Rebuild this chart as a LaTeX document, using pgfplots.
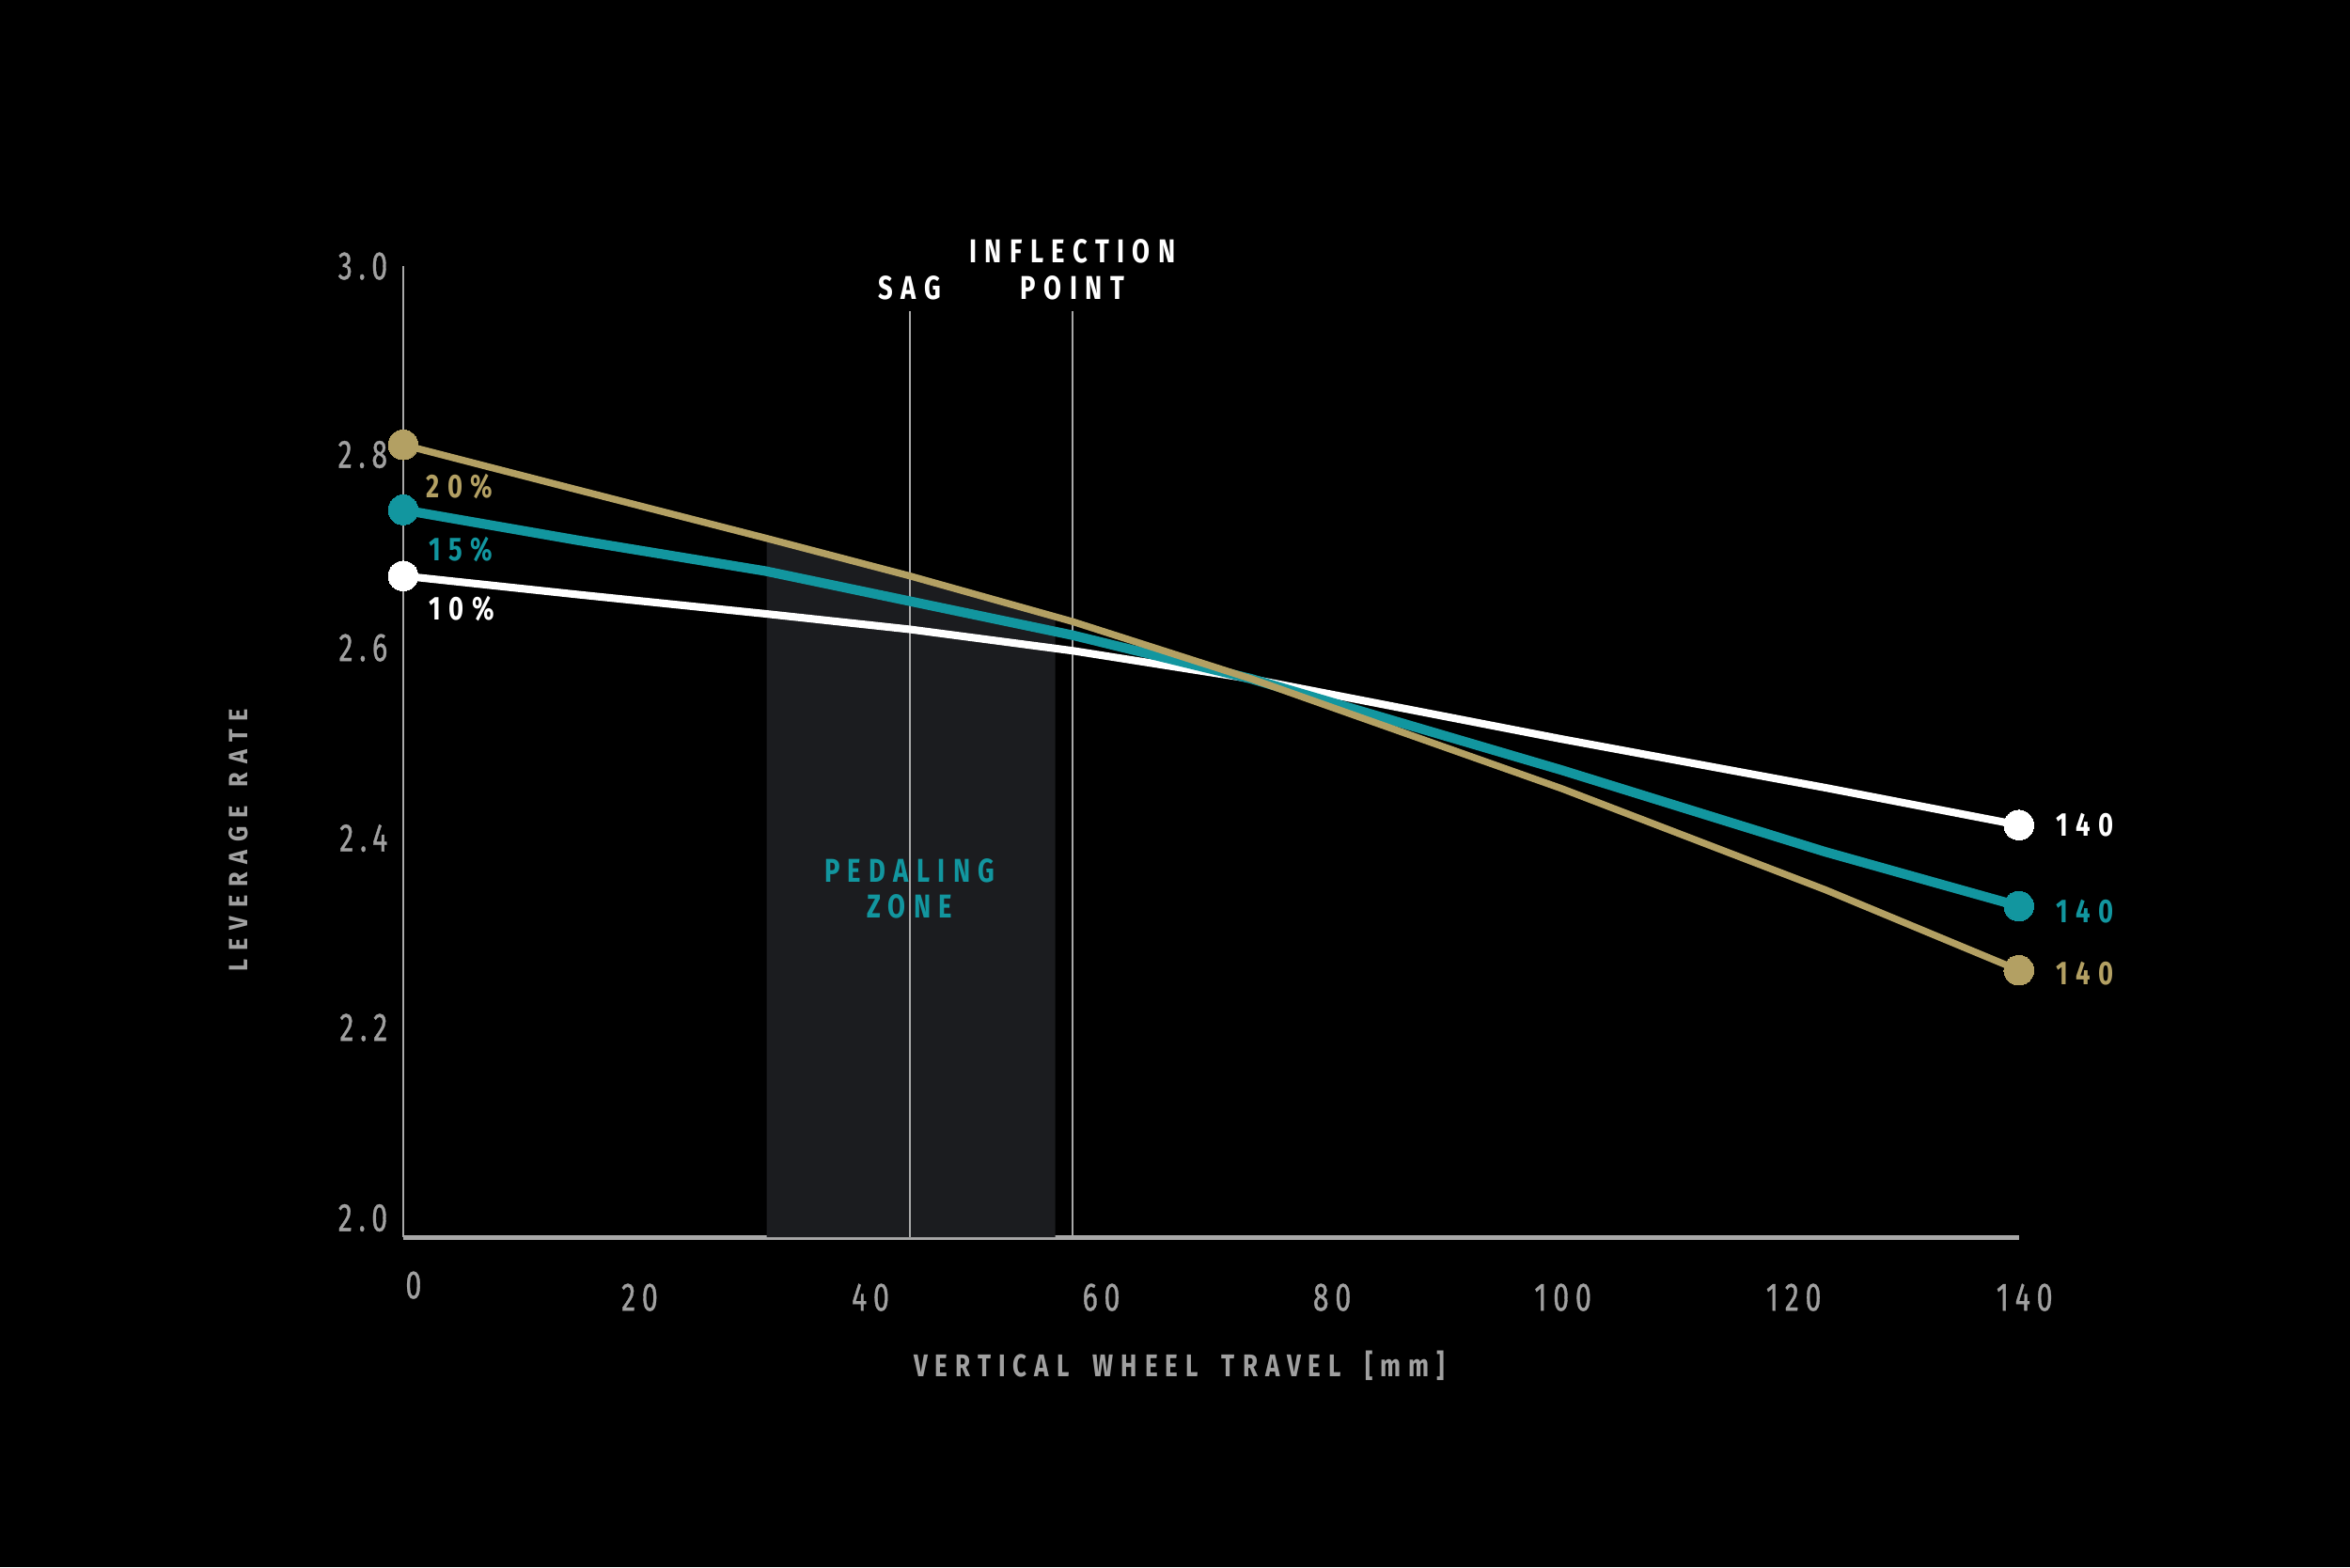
\documentclass[border=0pt]{standalone}
\usepackage{pgfplots}
\pgfplotsset{compat=1.18}
\usepackage{fontspec}
\setmainfont{Fira Sans}
\newfontfamily\numfont{Fira Sans}[FakeStretch=0.72, LetterSpace=16, FakeBold=0.8]
\newfontfamily\labfont{Fira Sans}[FakeStretch=0.78, LetterSpace=24]
\newfontfamily\ylabfont{Fira Sans}[FakeStretch=0.9, LetterSpace=32]
\definecolor{goldc}{HTML}{B3A063}
\definecolor{tealc}{HTML}{12969F}
\definecolor{zone}{HTML}{1B1C1F}
\definecolor{axgray}{HTML}{A8A8A8}
\definecolor{txtgray}{HTML}{A0A0A0}
\begin{document}
\begin{tikzpicture}
\fill[black] (0,0) rectangle (25cm,16.67cm);
\begin{axis}[
  at={(4.289cm,3.508cm)}, anchor=south west,
  scale only axis, width=17.188cm, height=10.331cm,
  xmin=0, xmax=140, ymin=2, ymax=3,
  clip=false,
  axis x line=bottom, axis y line=left,
  axis line style={-},
  x axis line style={axgray, line width=1.3pt},
  y axis line style={axgray, line width=0.7pt},
  major tick length=0pt,
  /pgf/number format/assume math mode=true,
  xtick={20,40,60,80,100,120,140},
  xticklabels={20,40,60,80,100,120,140},
  extra x ticks={0},
  extra x tick labels={0},
  extra x tick style={xticklabel style={yshift=0.13cm, xshift=0.05cm}},
  xticklabel style={anchor=base, inner sep=0pt, yshift=-0.78cm, xshift=0.06cm, text=txtgray, font=\numfont\fontsize{12}{14}\selectfont},
  ytick={2.020,2.216,2.411,2.607,2.806,3.0},
  yticklabels={2.0,2.2,2.4,2.6,2.8,3.0},
  yticklabel style={anchor=east, inner sep=0pt, xshift=-0.16cm, text=txtgray, font=\numfont\fontsize{12}{14}\selectfont},
]
% pedaling zone (area under the 20% curve)
\addplot[draw=none, fill=zone] coordinates {(31.5,2.0) (31.5,2.720) (43.9,2.681) (56.5,2.639) (56.5,2.0)};
% reference lines
\addplot[axgray, line width=0.7pt] coordinates {(43.9,2.0) (43.9,2.954)};
\addplot[axgray, line width=0.7pt] coordinates {(58.0,2.0) (58.0,2.954)};
% 10%
\addplot[white, line width=2.3pt, mark=*, mark indices={1,9}, mark size=4.5pt, mark options={fill=white, draw=white, line width=0pt}]
  coordinates {(0,2.681) (15,2.662) (31.4,2.642) (43.9,2.626) (58,2.604) (73.5,2.575) (100.4,2.513) (123.2,2.463) (140,2.4245)};
% 15%
\addplot[tealc, line width=2.9pt, mark=*, mark indices={1,9}, mark size=4.5pt, mark options={fill=tealc, draw=tealc, line width=0pt}]
  coordinates {(0,2.749) (15,2.718) (31.4,2.686) (43.9,2.655) (58,2.620) (73.5,2.575) (100.4,2.481) (123.2,2.397) (140,2.341)};
% 20%
\addplot[goldc, line width=2.1pt, mark=*, mark indices={1,9}, mark size=4.5pt, mark options={fill=goldc, draw=goldc, line width=0pt}]
  coordinates {(0,2.816) (15,2.770) (31.4,2.720) (43.9,2.681) (58,2.634) (73.5,2.575) (100.4,2.462) (123.2,2.358) (140,2.275)};
% series labels
\node[anchor=west, inner sep=0pt, text=goldc, font=\labfont\bfseries\fontsize{10}{12}\selectfont] at (axis cs:1.95,2.773) {20\%};
\node[anchor=west, inner sep=0pt, text=tealc, font=\labfont\bfseries\fontsize{10}{12}\selectfont] at (axis cs:2.2,2.7085) {15\%};
\node[anchor=west, inner sep=0pt, text=white, font=\labfont\bfseries\fontsize{10}{12}\selectfont] at (axis cs:2.2,2.647) {10\%};
\node[anchor=west, inner sep=0pt, text=white, font=\labfont\bfseries\fontsize{10}{12}\selectfont] at (axis cs:143.2,2.4245) {140};
\node[anchor=west, inner sep=0pt, text=tealc, font=\labfont\bfseries\fontsize{10}{12}\selectfont] at (axis cs:143.2,2.3358) {140};
\node[anchor=west, inner sep=0pt, text=goldc, font=\labfont\bfseries\fontsize{10}{12}\selectfont] at (axis cs:143.2,2.2713) {140};
% annotations
\node[text=white, font=\labfont\bfseries\fontsize{10}{12}\selectfont] at (axis cs:43.9,2.978) {SAG};
\node[text=white, font=\labfont\bfseries\fontsize{10}{12}\selectfont] at (axis cs:58.0,3.015) {INFLECTION};
\node[text=white, font=\labfont\bfseries\fontsize{10}{12}\selectfont] at (axis cs:58.0,2.978) {POINT};
\node[text=tealc, font=\labfont\bfseries\fontsize{10}{12}\selectfont] at (axis cs:43.9,2.3776) {PEDALING};
\node[text=tealc, font=\labfont\bfseries\fontsize{10}{12}\selectfont] at (axis cs:43.9,2.341) {ZONE};
% axis titles
\node[text=txtgray, font=\labfont\bfseries\fontsize{9.5}{12}\selectfont] at (axis cs:67.25,1.868) {VERTICAL\hspace{0.75em}WHEEL\hspace{0.75em}TRAVEL\hspace{0.75em}[mm]};
\node[text=txtgray, rotate=90, font=\ylabfont\bfseries\fontsize{8}{10}\selectfont] at (axis cs:-14.25,2.409) {LEVERAGE\hspace{0.7em}RATE};
\end{axis}
\end{tikzpicture}
\end{document}
